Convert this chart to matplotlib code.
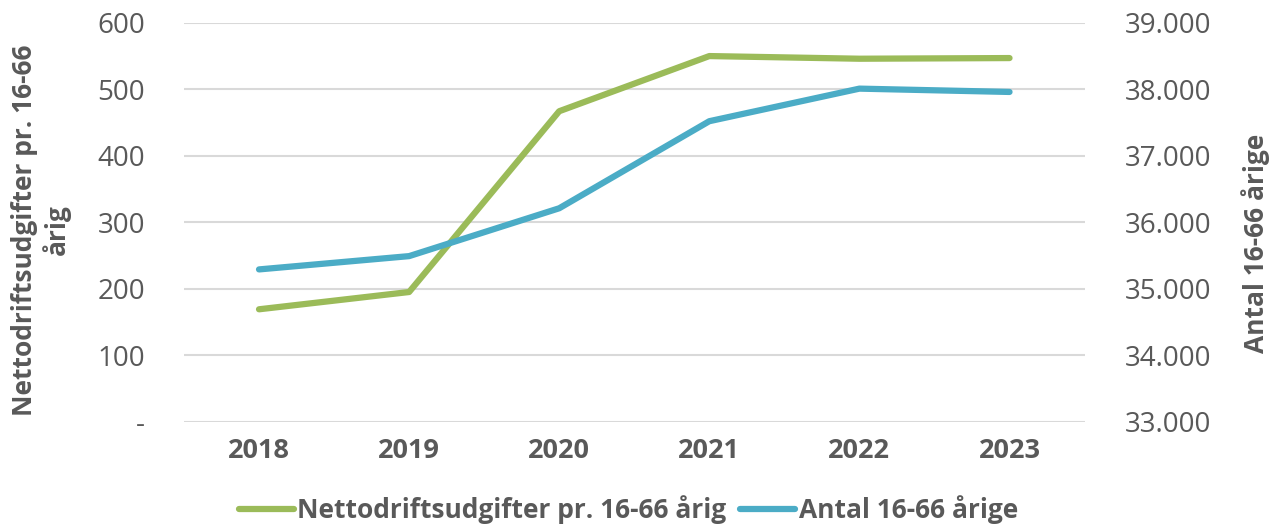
import matplotlib
matplotlib.use("Agg")
import matplotlib.pyplot as plt
from matplotlib.ticker import FuncFormatter, MultipleLocator

years = ["2018", "2019", "2020", "2021", "2022", "2023"]
netto_per_person = [169, 195, 467, 550, 546, 547]
antal_16_66 = [35290, 35490, 36210, 37520, 38010, 37960]

label_netto = "Nettodriftsudgifter pr. 16-66 årig"
label_antal = "Antal 16-66 årige"

GREEN = "#9BBB59"
BLUE = "#4BACC6"
TEXT = "#595959"
GRID = "#D9D9D9"

plt.rcParams["font.family"] = ["Open Sans", "DejaVu Sans"]

fig = plt.figure(figsize=(12.82, 5.31), dpi=100)
ax = fig.add_axes([0.1435, 0.206, 0.7025, 0.751])
ax2 = ax.twinx()

x = list(range(len(years)))
l1, = ax.plot(x, netto_per_person, color=GREEN, lw=4.5, solid_capstyle="round",
              solid_joinstyle="round", label=label_netto, zorder=3)
l2, = ax2.plot(x, antal_16_66, color=BLUE, lw=4.5, solid_capstyle="round",
               solid_joinstyle="round", label=label_antal, zorder=3)

ax.set_xlim(-0.5, len(years) - 0.5)
ax.set_ylim(0, 600)
ax2.set_ylim(33000, 39000)
ax.yaxis.set_major_locator(MultipleLocator(100))
ax2.yaxis.set_major_locator(MultipleLocator(1000))

ax.set_xticks(x)
ax.set_xticklabels(years, fontweight="bold", fontsize=19.5, color=TEXT)
ax.yaxis.set_major_formatter(FuncFormatter(lambda v, p: "-" if v == 0 else f"{int(v)}"))
ax2.yaxis.set_major_formatter(FuncFormatter(lambda v, p: f"{int(v):,}".replace(",", ".")))

ax.tick_params(axis="x", length=0, pad=12)
ax.tick_params(axis="y", length=0, pad=28, labelsize=20, labelcolor=TEXT)
ax2.tick_params(axis="y", length=0, pad=29, labelsize=20, labelcolor=TEXT)

ax.grid(axis="y", color=GRID, lw=1.5, zorder=0)
ax.set_axisbelow(True)
for a in (ax, ax2):
    for s in a.spines.values():
        s.set_visible(False)

fig.text(0.032, 0.567, "Nettodriftsudgifter pr. 16-66\nårig", rotation=90,
         ha="center", va="center", fontsize=19, fontweight="bold", color=TEXT,
         linespacing=1.15)
fig.text(0.979, 0.542, label_antal, rotation=90, ha="center", va="center",
         fontsize=19, fontweight="bold", color=TEXT)

fig.legend(handles=[l1, l2], loc="center", bbox_to_anchor=(0.49, 0.04), ncol=2,
           frameon=False, prop={"weight": "bold", "size": 19}, labelcolor=TEXT,
           handlelength=2.1, handletextpad=0.13, columnspacing=0.5)

fig.savefig("out.png", dpi=100, facecolor="white")
